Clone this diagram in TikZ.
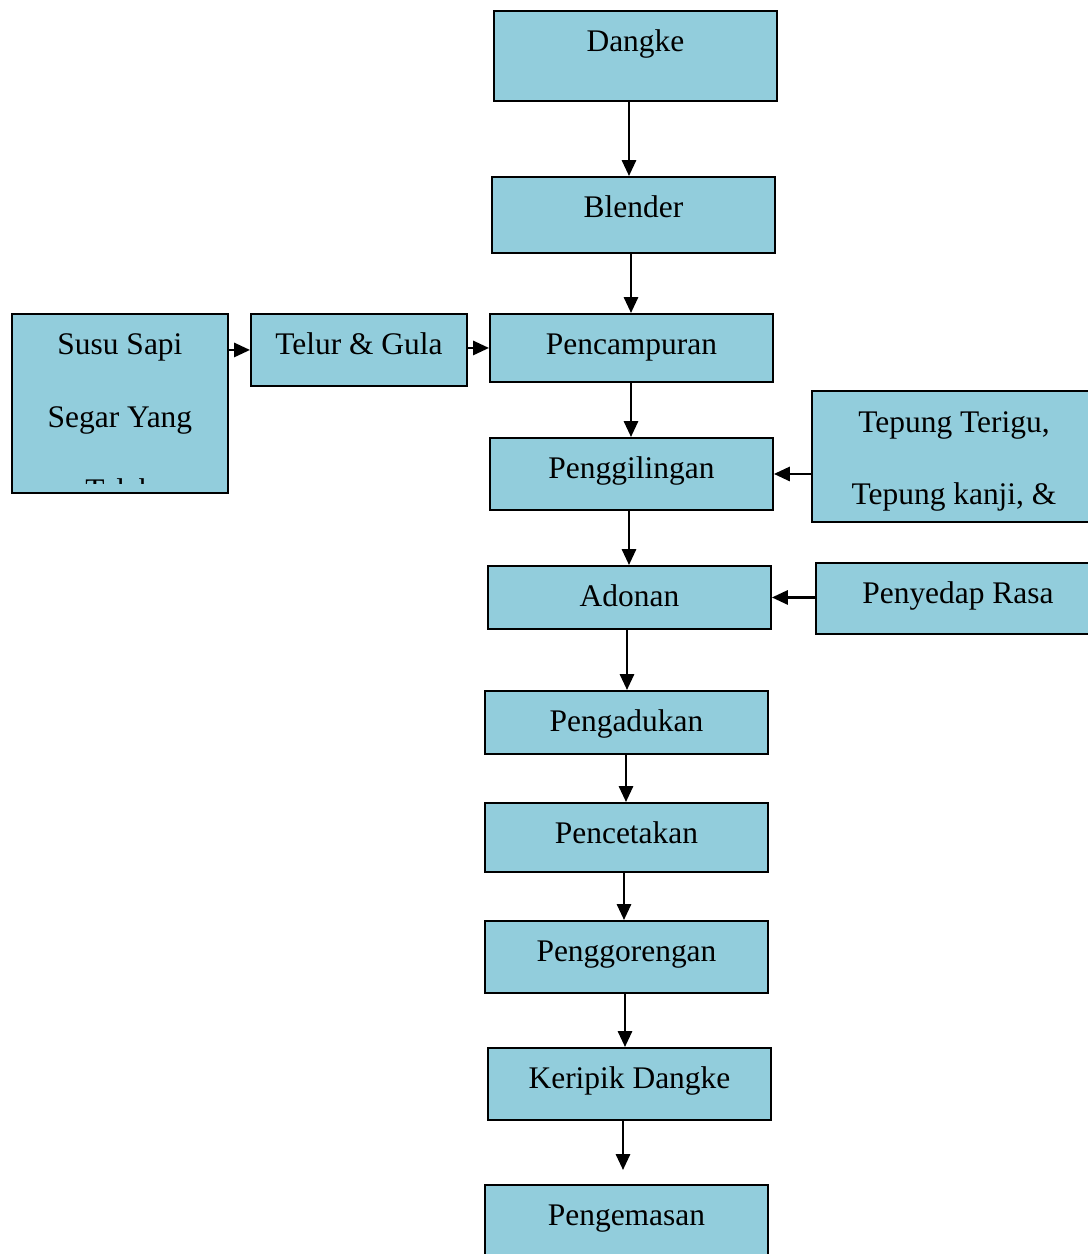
\documentclass[tikz,border=0pt]{standalone}
\usepackage{fontspec}
\setmainfont{Liberation Serif}
\definecolor{BoxBlue}{HTML}{92CDDC}
\usetikzlibrary{arrows.meta}
\newdimen\pxu \pxu=0.02cm

\begin{document}
\begin{tikzpicture}[x=0.02cm,y=-0.02cm,
    box/.style={draw=black,line width=1.1pt,fill=BoxBlue,inner sep=0pt,anchor=north west,
      minimum width=283\pxu,minimum height=#1\pxu,text height=41\pxu,text depth=#1\pxu-41\pxu,
      font=\fontsize{17.9}{41.5}\selectfont,align=center},
    txt/.style={inner sep=0pt,anchor=north,
      font=\fontsize{17.9}{41.5}\selectfont,align=center},
    arr/.style={-{Triangle[length=9pt,width=8pt]},line width=1.4pt}]
  \useasboundingbox (0,0) rectangle (1088,1254);
  \node[box=90] (dangke) at (493,10) {Dangke};
  \node[box=76] (blender) at (491,176) {Blender};
  \node[box=68] (pencampuran) at (489,313) {Pencampuran};
  \node[box=72,minimum width=216\pxu] (telur) at (250,313) {Telur \& Gula};
  \node[box=179,minimum width=216\pxu] (susu) at (11,313) {};
  \begin{scope}
    \clip (susu.north west) rectangle (227,483);
    \node[txt,text height=187\pxu] (susutext) at (susu.north) {Susu Sapi\\Segar Yang\\Telah};
  \end{scope}
  \node[box=72] (penggilingan) at (489,437) {Penggilingan};
  \node[box=131,minimum width=284\pxu,text height=114\pxu,text depth=17\pxu] (tepung)
    at (811,390) {Tepung Terigu,\\Tepung kanji, \&};
  \node[box=63] (adonan) at (487,565) {Adonan};
  \node[box=71,minimum width=284\pxu] (penyedap) at (815,562) {Penyedap Rasa};
  \node[box=63] (pengadukan) at (484,690) {Pengadukan};
  \node[box=69] (pencetakan) at (484,802) {Pencetakan};
  \node[box=72] (penggorengan) at (484,920) {Penggorengan};
  \node[box=72] (keripik) at (487,1047) {Keripik Dangke};
  \node[box=80] (pengemasan) at (484,1184) {Pengemasan};

  \foreach \a/\b/\c in {dangke/blender/629,blender/pencampuran/631,
                        pencampuran/penggilingan/631,penggilingan/adonan/629,
                        adonan/pengadukan/627,pengadukan/pencetakan/626,
                        pencetakan/penggorengan/624,penggorengan/keripik/625}
    \draw[arr] (\a.south -| \c,0) -- (\b.north -| \c,0);
  \draw[arr,shorten >=14\pxu] (keripik.south -| 623,0) -- (pengemasan.north -| 623,0);
  \draw[arr] (susu.east |- telur) -- (telur.west);
  \draw[arr] (telur.east |- pencampuran) -- (pencampuran.west);
  \draw[arr] (tepung.west |- penggilingan) -- (penggilingan.east);
  \draw[arr] (penyedap.west |- adonan) -- (adonan.east);
\end{tikzpicture}
\end{document}
